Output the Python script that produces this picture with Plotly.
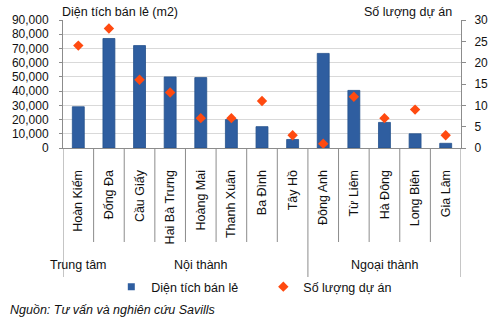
import plotly.graph_objects as go

districts = ["Hoàn Kiếm", "Đống Đa", "Cầu Giấy", "Hai Bà Trưng", "Hoàng Mai", "Thanh Xuân",
             "Ba Đình", "Tây Hồ", "Đông Anh", "Từ Liêm", "Hà Đông", "Long Biên", "Gia Lâm"]
retail_area = [29000, 77000, 72000, 50000, 49500, 20000, 15000, 6000, 66500, 40500, 18000, 10000, 3300]
project_count = [24, 28, 16, 13, 7, 7, 11, 3, 1, 12, 7, 9, 3]
groups = [("Trung tâm", 0, 0), ("Nội thành", 1, 7), ("Ngoại thành", 8, 12)]
left_ticks = [0, 10000, 20000, 30000, 40000, 50000, 60000, 70000, 80000, 90000]
right_ticks = [0, 5, 10, 15, 20, 25, 30]

FONT = "Liberation Sans"
BLUE = "#2F5EA0"
ORANGE = "#FF4A10"
AXIS = "#8C8C8C"

xs = list(range(len(districts)))

fig = go.Figure()
fig.add_trace(go.Bar(x=xs, y=retail_area, name="Diện tích bán lẻ", showlegend=False,
                     marker=dict(color=BLUE, line=dict(color="#24508C", width=0.8)),
                     yaxis="y"))
# legend entry with a small square symbol, as in the reference
fig.add_trace(go.Scatter(x=[None], y=[None], name="Diện tích bán lẻ", mode="markers",
                         marker=dict(symbol="square", color=BLUE, size=7), yaxis="y"))
fig.add_trace(go.Scatter(x=xs, y=project_count, name="Số lượng dự án", mode="markers",
                         marker=dict(symbol="diamond", color=ORANGE, size=8),
                         yaxis="y2"))

# plot area in px: x 58..470, y 20..148
PX_H = 128.0
PX_W = 412.0
def py(p):
    return (148 - p) / PX_H
def px(p):
    return (p - 58) / PX_W

shapes = []
boundaries_long = {-0.5, 7.5, 12.5}
for i in range(len(districts) + 1):
    b = i - 0.5
    is_long = b in boundaries_long
    shapes.append(dict(type="line", xref="x", yref="paper", x0=b, x1=b,
                       y0=0, y1=py(277 if is_long else 242),
                       line=dict(color=AXIS, width=1)))

annotations = []
for name, a, b in groups:
    annotations.append(dict(x=(a + b) / 2, y=py(265), xref="x", yref="paper",
                            text=name, showarrow=False, xanchor="center", yanchor="middle",
                            font=dict(family=FONT, size=12.5, color="#111")))
annotations.append(dict(x=px(55), y=py(12), xref="paper", yref="paper",
                        text="Diện tích bán lẻ (m2)", showarrow=False,
                        xanchor="left", yanchor="middle",
                        font=dict(family=FONT, size=12.5, color="#111")))
annotations.append(dict(x=px(367), y=py(12), xref="paper", yref="paper",
                        text="Số lượng dự án", showarrow=False, xanchor="left", yanchor="middle",
                        font=dict(family=FONT, size=12.5, color="#111")))
annotations.append(dict(x=px(1), y=py(310), xref="paper", yref="paper",
                        text="<i>Nguồn: Tư vấn và nghiên cứu Savills</i>", showarrow=False,
                        xanchor="left", yanchor="middle",
                        font=dict(family=FONT, size=12.5, color="#111")))

fig.update_layout(
    width=500, height=330, autosize=False,
    margin=dict(l=58, r=30, t=20, b=182),
    paper_bgcolor="white", plot_bgcolor="white",
    font=dict(family=FONT, size=12, color="#111"),
    bargap=0.61,
    showlegend=True,
    legend=dict(orientation="h", x=px(108), y=py(287), xanchor="left", yanchor="middle",
                font=dict(family=FONT, size=12.5, color="#111"), itemwidth=30,
                bgcolor="rgba(0,0,0,0)", tracegroupgap=0, entrywidth=107,
                entrywidthmode="pixels"),
    xaxis=dict(tickmode="array", tickvals=xs, ticktext=districts, tickangle=-90,
               range=[-0.5, len(districts) - 0.5], showline=True, linecolor=AXIS, linewidth=1,
               ticks="", showgrid=False, zeroline=False, ticklabelstandoff=16,
               tickfont=dict(family=FONT, size=12.5, color="#111")),
    yaxis=dict(range=[0, 90000], tickvals=left_ticks, tickformat=",d",
               showline=True, linecolor=AXIS, linewidth=1, ticks="outside", ticklen=3,
               tickcolor=AXIS, showgrid=True, gridcolor="#D9D9D9", gridwidth=1, zeroline=False,
               ticklabelstandoff=8, tickfont=dict(family=FONT, size=12, color="#111")),
    yaxis2=dict(range=[0, 30], tickvals=right_ticks, overlaying="y", side="right",
                showline=True, linecolor=AXIS, linewidth=1, ticks="outside", ticklen=4,
                tickcolor=AXIS, showgrid=False, zeroline=False,
                ticklabelstandoff=6, tickfont=dict(family=FONT, size=12, color="#111")),
    shapes=shapes, annotations=annotations,
)

fig.write_html("out.html")
